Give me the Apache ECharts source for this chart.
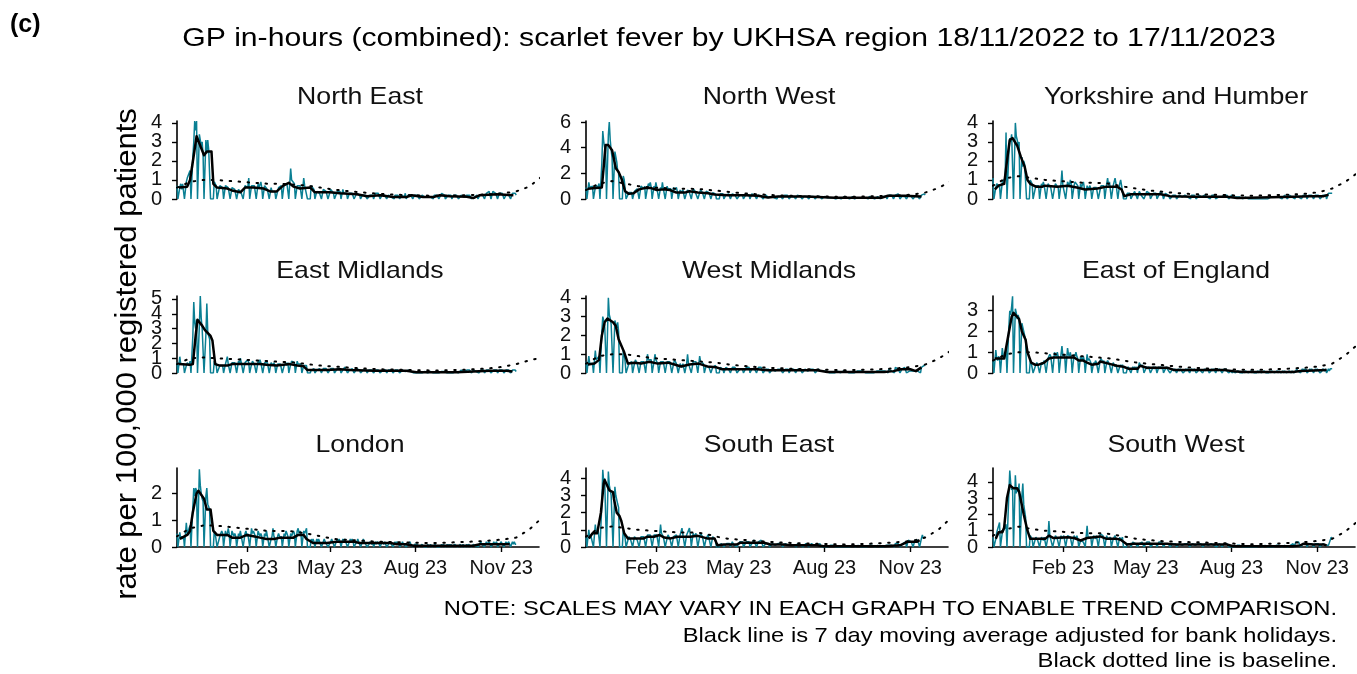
<!DOCTYPE html>
<html>
<head>
<meta charset="utf-8">
<script src="https://cdn.jsdelivr.net/npm/echarts@6/dist/echarts.min.js"></script>
<style>
html,body{margin:0;padding:0;background:#fff;}
#chart{width:1357px;height:674px;}
</style>
</head>
<body>
<div id="chart"></div>
<script>
// ---------------- DATA ----------------
// Daily rates from Fri 18/11/2022 to Fri 17/11/2023 (weeks run Fri..Thu)
const startDate = '2022-11-18';
const regionNames = ['North East','North West','Yorkshire and Humber','East Midlands','West Midlands','East of England','London','South East','South West'];
const xTickDates = ['2023-02-01','2023-05-01','2023-08-01','2023-11-01'];
const xTickLabels = ['Feb 23','May 23','Aug 23','Nov 23'];
const xEndDate = '2023-12-11';

const neDaily = [
.7,0,0,.6,.8,.5,.8, .7,0,0,.9,1.1,1,1.2,
1.5,0,0,2.2,3,4.1,3.6, 4.1,0,0,3.4,3.1,2.8,3,
2.3,0,0,3.1,2.4,3.1,2.6, 2.5,0,0,0,0,.9,.8,
.7,0,0,0,.7,.6,.8, .6,0,0,.7,.6,.8,.6,
.5,0,0,.6,.5,.7,.5, .4,0,0,.5,.4,.5,.3,
.4,0,0,.7,.6,.8,.6, 1.1,0,0,.7,.8,.6,.7,
.7,0,0,.8,.6,.7,.9, .6,0,0,.7,.6,.7,.5,
.5,0,0,.6,.4,.4,.5, .4,0,0,.4,.6,.5,.6,
.7,0,0,.8,.7,.9,.8, .9,0,0,1.6,1,.9,1.1,
.8,0,0,.7,.8,.6,.7, .6,0,0,1.1,.7,.6,.8,
0,0,0,0,.7,.6,.7, .5,0,0,.4,.4,.5,.3,
.4,0,0,.5,.4,.6,.4, .4,0,0,0,.5,.5,.4,
.3,0,0,0,.4,.4,.5, .4,0,0,.5,.3,.3,.4,
.3,0,0,.3,.4,.4,.3, .3,0,0,0,.3,.3,.4,
.2,0,0,.2,.1,.3,.2, .2,0,0,.1,.2,.2,.2,
.2,0,0,.3,.3,.2,.3, .3,0,0,.2,.2,.3,.2,
.1,0,0,.2,.2,.1,.1, .1,0,0,.2,.1,.2,.2,
.1,0,0,.2,.2,.3,.1, .3,0,0,.2,.3,.3,.2,
.2,0,0,.2,.1,.2,.2, .1,0,0,.1,.2,.2,.1,
.1,0,0,.1,.2,.1,.1, .1,0,0,.2,.1,.2,.2,
.2,0,0,0,.3,.3,.2, .2,0,0,.1,.2,.2,.2,
.2,0,0,.2,.1,.2,.2, .2,0,0,.1,.2,.2,.1,
.1,0,0,.2,.1,.2,.2, .1,0,0,0,.1,.1,.1,
.2,0,0,.2,.2,.3,.2, .2,0,0,.3,.3,.2,.4,
.3,0,0,.4,.3,.3,.3, .3,0,0,.3,.3,.4,.3,
.3,0,0,.2,.3,.3,.2, .2,0,0,.3,.2,.3,.3,
.2];
const nwDaily = [
.9,0,0,1.3,.9,1,.8, 1,0,0,.9,1.1,.8,1,
1.2,0,0,2.8,5.3,4.5,4, 4.2,0,0,5,6,4.6,3.8,
3.2,0,0,3.7,3.3,2.9,2.2, 2,0,0,0,0,1.8,1.5,
.8,0,0,0,.5,.4,.6, .5,0,0,.6,.7,.5,.8,
.9,0,0,1,.9,1.1,.8, 1,0,0,.9,1.2,1,1.3,
.9,0,0,1,.8,1.3,.9, .8,0,0,.9,.7,1.3,.8,
.9,0,0,1,.8,.9,.7, .8,0,0,.9,.7,.8,.9,
.6,0,0,.7,.5,.6,.7, .6,0,0,.5,.7,.6,.5,
.6,0,0,.8,.7,.6,.7, .6,0,0,.5,.7,.6,.5,
.5,0,0,.6,.5,.6,.5, .4,0,0,.5,.4,.5,.4,
0,0,0,0,.4,.5,.4, .4,0,0,.3,.4,.3,.4,
.3,0,0,.4,.3,.4,.3, .4,0,0,0,.3,.4,.3,
.3,0,0,0,.4,.3,.3, .3,0,0,.4,.3,.4,.3,
.3,0,0,.3,.4,.3,.2, .2,0,0,0,.3,.2,.2,
.1,0,0,.2,.1,.2,.1, .2,0,0,.2,.3,.2,.2,
.2,0,0,.3,.2,.2,.3, .2,0,0,.2,.3,.2,.2,
.2,0,0,.3,.2,.3,.2, .2,0,0,.2,.2,.3,.2,
.2,0,0,.2,.1,.2,.2, .1,0,0,.2,.2,.1,.2,
.1,0,0,.1,.2,.1,.1, .1,0,0,.1,.1,.2,.1,
.1,0,0,.1,.1,.1,.2, .1,0,0,.1,.2,.1,.1,
.1,0,0,0,.1,.1,.2, .1,0,0,.1,.1,.2,.1,
.1,0,0,.1,.2,.1,.1, .1,0,0,.2,.1,.1,.1,
.1,0,0,.1,.1,.2,.1, .2,0,0,.1,.2,.1,.2,
.2,0,0,.3,.3,.2,.3, .3,0,0,.3,.2,.3,.4,
.3,0,0,.2,.3,.3,.2, .2,0,0,.3,.2,.3,.2,
.2,0,0,.2,.3,.2,.2, .2,0,0,.3,.2,.3,.4,
.3];
const yhDaily = [
1.1,0,0,.6,.8,.7,.9, .7,0,0,.9,1,.8,1.1,
3.5,0,0,2.4,3.2,3,3.4, 3.4,0,0,4,3.3,3.1,2.8,
3,0,0,2.2,1.7,2,1.8, 1.7,0,0,0,0,1,.9,
.8,0,0,0,.7,.8,.6, .7,0,0,.8,.6,.9,.7,
.6,0,0,.8,.7,.9,.6, .7,0,0,.6,.8,.7,.9,
.6,0,0,.8,1.5,.7,.8, .7,0,0,.9,.8,.7,1,
.8,0,0,.7,.9,1,.8, .7,0,0,.8,.6,.7,.9,
.6,0,0,.7,.5,.6,.7, .5,0,0,.6,.7,.5,.6,
.6,0,0,.5,.7,.8,.6, .7,0,0,.8,1.1,.7,.9,
.8,0,0,.7,.9,1.1,.8, .7,0,0,.8,1,.7,.6,
0,0,0,0,.3,.2,.3, .3,0,0,.2,.3,.4,.3,
.3,0,0,.4,.3,.2,.3, .3,0,0,0,.4,.3,.3,
.3,0,0,0,.3,.4,.3, .3,0,0,.2,.3,.4,.3,
.2,0,0,.3,.2,.3,.2, .2,0,0,0,.2,.3,.2,
.2,0,0,.1,.2,.1,.2, .1,0,0,.2,.1,.2,.1,
.1,0,0,.2,.1,.1,.2, .2,0,0,.1,.2,.1,.1,
.1,0,0,.2,.1,.2,.1, .1,0,0,.1,.2,.1,.2,
.2,0,0,.1,.1,.2,.1, .1,0,0,.2,.1,.1,.2,
.1,0,0,.1,.2,.1,.1, .1,0,0,.1,.1,.1,.1,
.1,0,0,0,.1,.1,0, .1,0,0,.1,0,.1,.1,
0,0,0,0,.1,.1,0, .1,0,0,.1,.1,0,.1,
.1,0,0,.1,.1,.1,.2, .1,0,0,.1,.2,.1,.1,
.1,0,0,.1,.1,.2,.1, .1,0,0,.2,.1,.1,.1,
.1,0,0,.2,.1,.2,.1, .2,0,0,.1,.2,.2,.1,
.2,0,0,.2,.1,.2,.2, .1,0,0,.2,.2,.1,.2,
.2,0,0,.1,.2,.3,.2, .2,0,0,.3,.2,.3,.3,
.3];
const emDaily = [
.7,0,0,1.1,.6,.7,.5, .6,0,0,.5,.7,.6,.5,
.8,0,0,2.5,4.8,3.4,3, 3.6,0,0,3.2,5.2,3.7,3,
3,0,0,2.6,4.7,2.8,2.5, 2.3,0,0,0,0,.8,.7,
.6,0,0,0,.5,.6,.5, .5,0,0,.6,.5,1.1,.6,
.6,0,0,.7,.8,.6,.7, .7,0,0,.8,.6,1,.7,
.6,0,0,.7,.8,.6,.9, .7,0,0,.6,.8,.7,.6,
.7,0,0,.8,.6,.9,.7, .6,0,0,.7,.8,.6,.7,
.6,0,0,.7,.6,.5,.7, .5,0,0,.6,.7,.5,.6,
.6,0,0,.5,.6,.7,.5, .7,0,0,.6,.8,.7,.9,
.7,0,0,.8,.6,.7,.5, .6,0,0,.5,.4,.6,.5,
0,0,0,0,.2,.3,.2, .3,0,0,.2,.3,.2,.3,
.2,0,0,.3,.2,.4,.3, .3,0,0,0,.3,.4,.2,
.3,0,0,0,.3,.2,.4, .3,0,0,.2,.3,.4,.3,
.3,0,0,.2,.3,.2,.3, .2,0,0,0,.3,.2,.2,
.2,0,0,.1,.2,.2,.1, .2,0,0,.2,.1,.2,.2,
.1,0,0,.2,.2,.1,.2, .2,0,0,.1,.2,.2,.1,
.2,0,0,.2,.1,.2,.2, .1,0,0,.2,.2,.1,.2,
.2,0,0,.1,.2,.2,.1, .1,0,0,.2,.1,.2,.1,
.1,0,0,.1,.1,0,.1, 0,0,0,.1,0,.1,0,
.1,0,0,0,.1,0,.1, 0,0,0,.1,.1,0,.1,
0,0,0,0,.1,0,.1, .1,0,0,0,.1,.1,0,
.1,0,0,.1,0,.1,.1, .1,0,0,.1,.2,.1,.1,
.1,0,0,.2,.1,.1,.2, .1,0,0,.2,.1,.2,.1,
.2,0,0,.1,.2,.2,.1, .2,0,0,.2,.1,.2,.2,
.2,0,0,.1,.2,.3,.2, .2,0,0,.2,.1,.2,.2,
.1,0,0,.2,.2,.1,.2, .1,0,0,.2,.1,.1,.2,
.1];
const wmDaily = [
.6,0,0,.9,.5,.6,.4, .5,0,0,1.2,.7,.6,.8,
.9,0,0,2.2,3,2.8,2.6, 2.7,0,0,4,3.1,2.9,2.6,
2.5,0,0,2.8,2.6,2.4,2.7, 2.2,0,0,0,0,1.2,1,
.6,0,0,0,.5,.6,.5, .6,0,0,.5,.7,.6,.5,
.5,0,0,.6,.5,.7,.6, .6,0,0,1,.7,.6,.8,
.7,0,0,.6,1,.7,.6, .5,0,0,.6,.5,.7,.6,
.5,0,0,.6,.7,.5,.6, .6,0,0,.5,.7,.6,.5,
.4,0,0,.5,.4,.3,.5, .4,0,0,.5,1,.5,.6,
.5,0,0,.6,.5,.7,.6, .6,0,0,.9,.6,.5,.7,
.5,0,0,.4,.5,.4,.3, .4,0,0,.3,.4,.3,.4,
0,0,0,0,.3,.2,.3, .2,0,0,.3,.2,.3,.2,
.2,0,0,.3,.2,.2,.3, .3,0,0,0,.2,.3,.2,
.2,0,0,0,.3,.2,.2, .3,0,0,.2,.3,.2,.2,
.2,0,0,.3,.2,.2,.3, .2,0,0,0,.2,.1,.2,
.2,0,0,.1,.2,.2,.1, .1,0,0,.2,.2,.1,.2,
.2,0,0,.1,.2,.2,.1, .2,0,0,.2,.1,.2,.2,
.1,0,0,.2,.2,.1,.2, .2,0,0,.1,.2,.2,.1,
.1,0,0,.2,.1,.2,.2, .2,0,0,.1,.2,.1,.2,
.1,0,0,.1,0,.1,.1, 0,0,0,.1,.1,0,.1,
.1,0,0,0,.1,0,.1, 0,0,0,.1,0,.1,.1,
0,0,0,0,.1,0,.1, .1,0,0,0,.1,.1,0,
.1,0,0,.1,0,.1,0, 0,0,0,.1,.1,0,.1,
.1,0,0,0,.1,.1,.1, .1,0,0,.1,0,.1,.1,
.1,0,0,.2,.1,.2,.1, .2,0,0,.3,.2,.3,.2,
.3,0,0,.2,.3,.2,.3, .2,0,0,.1,.1,.2,.1,
.1,0,0,.1,.2,.1,.1, .2,0,0,.3,.4,.3,.4,
.4];
const eeDaily = [
.6,0,0,1.1,.7,.6,.8, .7,0,0,1.2,.8,.7,.9,
1.1,0,0,2.2,3,2.8,3.2, 3.7,0,0,3.1,2.9,2.6,2.8,
2.6,0,0,2.4,2.2,2,1.8, 1.6,0,0,0,0,.6,.5,
.5,0,0,0,.4,.5,.4, .4,0,0,.5,.4,.5,.6,
.6,0,0,.7,.8,.9,.8, .8,0,0,1,.9,.8,1,
.8,0,0,.9,1.3,.8,.9, .8,0,0,1.2,.9,.8,1,
.7,0,0,.9,.8,1,.8, .7,0,0,.8,.7,.6,.8,
.6,0,0,.9,.6,.7,.6, .5,0,0,.5,.4,.6,.5,
.5,0,0,.6,.7,.6,.5, .6,0,0,.5,.6,.5,.4,
.4,0,0,.5,.4,.3,.4, .4,0,0,.3,.4,.3,.4,
0,0,0,0,.2,.3,.2, .2,0,0,.3,.2,.3,.2,
.3,0,0,.5,.4,.3,.4, .3,0,0,0,.3,.2,.3,
.3,0,0,0,.3,.2,.3, .2,0,0,.3,.2,.3,.2,
.3,0,0,.2,.3,.2,.2, .2,0,0,0,.2,.1,.2,
.1,0,0,.2,.1,.2,.2, .2,0,0,.1,.2,.1,.2,
.1,0,0,.2,.2,.1,.2, .2,0,0,.1,.2,.2,.1,
.1,0,0,.2,.1,.2,.1, .2,0,0,.1,.2,.1,.2,
.1,0,0,.2,.1,.2,.2, .2,0,0,.2,.1,.2,.1,
.1,0,0,.1,.1,0,.1, .1,0,0,0,.1,.1,0,
0,0,0,.1,0,.1,.1, .1,0,0,0,.1,0,.1,
0,0,0,0,.1,0,.1, .1,0,0,0,.1,.1,0,
0,0,0,.1,0,.1,.1, .1,0,0,0,.1,0,.1,
.1,0,0,.1,0,.1,.1, 0,0,0,.1,.1,0,.1,
.1,0,0,.1,.2,.1,.1, .1,0,0,.2,.1,.2,.1,
.2,0,0,.1,.2,.1,.2, .1,0,0,.2,.1,.2,.2,
.2,0,0,.1,.2,.2,.1, .2,0,0,.2,.1,.2,.2,
.2];
const ldDaily = [
.5,0,0,.55,.3,.4,.3, .4,0,0,.9,.5,.6,.7,
.8,0,0,1.5,2.2,1.9,2.2, 2.1,0,0,2.9,2.3,2,1.8,
1.7,0,0,1.9,2.2,1.6,1.5, 1.4,0,0,0,0,.6,.5,
.5,0,0,0,.4,.5,.6, .5,0,0,.6,.4,.5,.7,
.5,0,0,.6,.5,.4,.5, .4,0,0,.5,.4,.6,.4,
.4,0,0,.5,.6,.4,.5, .5,0,0,.7,.5,.6,.5,
.4,0,0,.6,.5,.4,.5, .4,0,0,.5,.4,.6,.4,
.4,0,0,.3,.4,.7,.4, .3,0,0,.4,.5,.4,.3,
.4,0,0,.5,.4,.6,.5, .4,0,0,.5,.4,.5,.6,
.5,0,0,.6,.7,.5,.6, .5,0,0,.6,.5,.6,.7,
0,0,0,0,.3,.2,.3, .2,0,0,.3,.2,.3,.2,
.2,0,0,.2,.3,.2,.2, .2,0,0,0,.2,.3,.2,
.2,0,0,0,.3,.2,.3, .2,0,0,.3,.2,.3,.2,
.2,0,0,.2,.3,.2,.3, .2,0,0,0,.2,.3,.2,
.2,0,0,.2,.3,.2,.2, .2,0,0,.1,.2,.2,.1,
.2,0,0,.2,.1,.2,.2, .1,0,0,.2,.2,.1,.2,
.2,0,0,.1,.2,.2,.1, .1,0,0,.2,.1,.2,.2,
.1,0,0,.1,.2,.1,.1, .1,0,0,.1,.1,.2,.1,
.1,0,0,.1,.1,.1,.1, .1,0,0,0,.1,.1,0,
0,0,0,.1,.1,0,.1, .1,0,0,0,.1,.1,0,
0,0,0,0,.1,0,.1, .1,0,0,.1,0,.1,0,
.1,0,0,0,.1,.1,.1, 0,0,0,.1,.1,0,.1,
.1,0,0,.1,0,.1,.1, .1,0,0,.1,.1,.1,0,
.1,0,0,.1,.2,.1,.1, .1,0,0,.2,.1,.1,.2,
.1,0,0,.1,.2,.1,.1, .2,0,0,.1,.1,.2,.1,
.1,0,0,.2,.1,.1,.2, .1,0,0,.2,.1,.2,.1,
.1];
const seDaily = [
.6,0,0,1,.5,.7,.8, .7,0,0,1.3,.8,.9,1,
1.1,0,0,2.5,4.5,3.8,4, 4,0,0,4.4,3.6,3.3,3,
3.1,0,0,3.5,3,2.9,2.5, 2.3,0,0,0,0,1,.9,
.5,0,0,0,.6,.5,.4, .5,0,0,.6,.5,.6,.4,
.5,0,0,.6,.5,.7,.6, .6,0,0,.7,.6,.8,.7,
.6,0,0,.7,.8,.6,.7, .7,0,0,1.3,.8,.7,.6,
.6,0,0,.5,.7,.6,.5, .5,0,0,.6,.5,.6,.7,
.6,0,0,.7,.6,1.1,.7, .6,0,0,.7,.8,.6,1.1,
.7,0,0,.8,.6,.7,.8, .7,0,0,.6,.8,.7,.6,
.6,0,0,.5,.6,.7,.5, .5,0,0,.6,.5,.6,.4,
0,0,0,0,.1,.2,.1, .2,0,0,.1,.2,.1,.2,
.2,0,0,.3,.2,.1,.2, .2,0,0,0,.3,.2,.3,
.3,0,0,0,.3,.4,.3, .3,0,0,.2,.3,.4,.3,
.3,0,0,.3,.2,.3,.4, .2,0,0,0,.2,.3,.2,
.2,0,0,.1,.2,.2,.1, .1,0,0,.2,.2,.1,.2,
.2,0,0,.1,.2,.1,.2, .1,0,0,.1,.2,.1,.1,
.1,0,0,.2,.1,.1,.1, .1,0,0,.1,.1,.2,.1,
.1,0,0,.1,.2,.1,.1, .1,0,0,.1,.1,.1,.2,
.1,0,0,.1,0,.1,.1, 0,0,0,.1,.1,0,.1,
.1,0,0,0,.1,0,.1, 0,0,0,.1,0,.1,.1,
0,0,0,0,.1,0,.1, .1,0,0,0,.1,.1,0,
.1,0,0,.1,0,.1,0, 0,0,0,.1,.1,0,.1,
.1,0,0,0,.1,.1,.1, .1,0,0,.1,0,.1,.1,
.1,0,0,.1,.2,.1,.1, .1,0,0,.2,.1,.1,.2,
.2,0,0,.1,.2,.2,.1, .3,0,0,.4,.3,.4,.3,
.3,0,0,.4,.3,.3,.4, .4,0,0,.5,.7,.5,.6,
.6];
const swDaily = [
.6,0,0,.5,.9,1,.8, 1.5,0,0,.9,1,.8,1.2,
1.4,0,0,3.3,4.7,3.9,3.5, 3.7,0,0,4.4,3.3,3.6,3.4,
3.9,0,0,3.1,3.9,2.6,2.2, 1.8,0,0,0,0,.7,.6,
.5,0,0,0,.6,.5,.4, .5,0,0,.6,.5,.4,.6,
.5,0,0,.6,1.6,.7,.6, .6,0,0,.5,.7,.6,.5,
.6,0,0,.7,.5,.6,.7, .6,0,0,.7,.6,.8,.6,
.6,0,0,.7,.6,.5,.7, .5,0,0,.4,.5,.4,.3,
.4,0,0,1.3,.6,.5,.7, .6,0,0,.7,.6,.5,.7,
.7,0,0,.8,.7,.9,.7, .6,0,0,.7,.5,.6,.5,
.6,0,0,.5,.6,.7,.5, .5,0,0,.6,.4,.5,.6,
0,0,0,0,.2,.1,.2, .2,0,0,.3,.2,.3,.2,
.3,0,0,.2,.3,.2,.3, .2,0,0,0,.3,.2,.2,
.3,0,0,0,.2,.3,.2, .2,0,0,.3,.2,.2,.3,
.2,0,0,.2,.3,.2,.2, .2,0,0,0,.2,.3,.2,
.2,0,0,.1,.2,.2,.1, .1,0,0,.2,.2,.1,.2,
.2,0,0,.1,.2,.2,.1, .1,0,0,.2,.1,.2,.2,
.2,0,0,.1,.2,.1,.2, .1,0,0,.2,.2,.1,.1,
.2,0,0,.1,.1,.2,.1, .1,0,0,.2,.1,.1,.2,
.1,0,0,.1,0,.1,.1, 0,0,0,.1,.1,0,.1,
.1,0,0,0,.1,0,.1, 0,0,0,.1,0,.1,.1,
0,0,0,0,.1,0,.1, .1,0,0,0,.1,.1,0,
.1,0,0,.1,0,.1,0, 0,0,0,.1,.1,0,.1,
.1,0,0,0,.1,.1,.1, .1,0,0,.1,.1,.2,.1,
.2,0,0,.3,.2,.2,.3, .2,0,0,.1,.2,.2,.1,
.2,0,0,.2,.1,.2,.2, .1,0,0,.2,.2,.1,.2,
.2,0,0,.1,.2,.1,.1, .1,0,0,.1,.2,.1,.6,
.5];

// 7 day moving average: [day since 18/11/2022, rate]
const neMA = [[2,.6],[11,.65],[14,1],[18,2.3],[21,3.3],[22,3.4],[25,2.8],[29,2.3],[32,2.5],[37,2.5],[39,.8],[43,.6],[54,.55],[59,.45],[68,.35],[73,.6],[82,.6],[93,.55],[100,.4],[107,.4],[114,.7],[120,.85],[125,.65],[132,.55],[143,.6],[148,.35],[164,.35],[175,.3],[193,.25],[204,.15],[218,.2],[232,.1],[246,.1],[252,.2],[264,.1],[275,.1],[282,.2],[293,.15],[311,.12],[318,.05],[325,.2],[343,.25],[361,.2]];
const nwMA = [[2,.8],[10,.85],[17,.9],[19,2.5],[21,4.2],[24,4.2],[28,3.8],[32,2.4],[35,2.1],[38,1.6],[42,.6],[46,.4],[51,.45],[57,.75],[63,.85],[70,.85],[76,.7],[83,.75],[90,.7],[97,.5],[106,.5],[111,.6],[120,.5],[131,.45],[138,.35],[152,.3],[170,.3],[185,.25],[195,.12],[206,.2],[235,.2],[249,.15],[267,.1],[292,.1],[317,.1],[324,.25],[342,.25],[360,.2]];
const yhMA = [[2,.5],[6,.7],[12,.8],[15,2],[18,3.1],[21,3.2],[26,2.8],[30,2.2],[34,1.7],[37,1],[40,.8],[46,.65],[53,.65],[56,.7],[69,.65],[80,.7],[90,.6],[99,.5],[112,.55],[122,.65],[133,.65],[138,.5],[141,.15],[148,.25],[180,.25],[190,.15],[215,.12],[251,.12],[262,.05],[287,.08],[322,.12],[340,.15],[355,.15],[360,.22]];
const emMA = [[2,.6],[14,.55],[17,.6],[20,2.5],[22,3.6],[27,3.2],[30,2.9],[36,2.5],[38,2.2],[41,.6],[46,.5],[54,.5],[59,.6],[89,.6],[96,.55],[107,.5],[121,.6],[129,.5],[136,.45],[140,.2],[161,.2],[175,.25],[186,.2],[211,.15],[246,.15],[257,.05],[300,.05],[318,.1],[336,.15],[354,.15],[360,.1]];
const wmMA = [[2,.45],[9,.5],[11,.6],[14,.7],[17,2],[20,2.7],[23,2.9],[29,2.7],[32,2.5],[35,1.8],[41,1.1],[45,.5],[52,.55],[59,.5],[68,.6],[77,.5],[88,.55],[95,.45],[102,.35],[111,.45],[121,.5],[130,.35],[140,.3],[146,.2],[184,.2],[195,.15],[248,.15],[259,.05],[320,.05],[330,.1],[338,.2],[348,.2],[354,.1],[360,.3]];
const eeMA = [[2,.7],[12,.7],[14,.75],[18,2.2],[20,2.7],[22,2.9],[28,2.6],[31,2],[35,1.6],[37,1],[41,.5],[45,.4],[49,.4],[55,.5],[60,.7],[65,.75],[87,.75],[92,.6],[97,.6],[101,.5],[106,.4],[113,.45],[115,.55],[124,.45],[133,.35],[140,.3],[146,.2],[155,.2],[158,.35],[165,.25],[187,.25],[194,.15],[215,.15],[247,.15],[258,.08],[269,.05],[322,.05],[330,.1],[358,.15]];
const ldMA = [[3,.3],[11,.45],[14,.6],[17,1.3],[21,2],[23,2.1],[29,1.8],[32,1.4],[36,1.4],[39,.6],[43,.45],[54,.45],[59,.35],[68,.35],[75,.45],[82,.4],[89,.35],[96,.3],[104,.3],[111,.35],[125,.35],[130,.45],[136,.45],[139,.3],[146,.15],[161,.15],[171,.2],[189,.2],[196,.15],[229,.15],[236,.1],[246,.1],[254,.05],[318,.05],[325,.1],[357,.1]];
const seMA = [[3,.5],[7,.8],[12,.8],[14,.9],[16,2],[19,3.7],[20,3.9],[25,3.3],[29,3.2],[30,2.8],[33,2],[36,1.8],[38,1.5],[41,.8],[45,.5],[62,.5],[66,.6],[73,.6],[79,.7],[84,.55],[91,.5],[98,.6],[112,.6],[120,.65],[130,.5],[138,.5],[141,.1],[148,.15],[162,.15],[166,.25],[191,.25],[198,.15],[212,.15],[220,.1],[248,.1],[255,.05],[320,.05],[337,.1],[345,.3],[355,.3],[358,.4]];
const swMA = [[3,.5],[6,.9],[10,.9],[12,1.2],[15,3],[18,3.8],[22,3.6],[26,3.6],[28,3.4],[33,2],[37,1],[40,.5],[47,.5],[56,.5],[60,.7],[65,.55],[80,.6],[87,.55],[94,.4],[101,.55],[115,.65],[122,.5],[133,.5],[137,.45],[144,.15],[151,.2],[187,.2],[194,.15],[251,.15],[258,.05],[322,.05],[330,.1],[333,.2],[344,.15],[355,.15],[358,.1]];

// Baseline, one value every 14 days from 18/11/2022
const neBase = [.6,.9,1,1,.95,.9,.85,.8,.8,.75,.7,.6,.5,.42,.36,.3,.25,.22,.2,.18,.17,.18,.2,.22,.25,.3,.4,.65,1.2];
const nwBase = [.7,1.2,1.4,1.2,1,.9,.85,.8,.8,.75,.65,.55,.45,.38,.32,.27,.24,.22,.2,.18,.17,.19,.21,.24,.28,.34,.5,.85,1.4];
const yhBase = [.7,1.1,1.2,1.1,1,.95,.9,.85,.85,.8,.65,.55,.45,.38,.32,.27,.24,.22,.2,.18,.17,.19,.21,.24,.28,.36,.55,.9,1.4];
const emBase = [.6,1,1.05,1,.95,.9,.85,.8,.75,.7,.6,.5,.44,.38,.32,.27,.24,.22,.2,.18,.17,.19,.22,.26,.32,.42,.6,.85,1.05];
const wmBase = [.5,.9,1,1,.9,.8,.75,.7,.65,.6,.55,.45,.38,.32,.28,.25,.22,.2,.18,.16,.15,.17,.19,.22,.26,.32,.45,.75,1.2];
const eeBase = [.6,.9,1,1,.95,.9,.85,.8,.75,.7,.6,.5,.44,.38,.32,.27,.23,.2,.18,.16,.15,.17,.19,.22,.26,.32,.45,.85,1.4];
const ldBase = [.4,.7,.8,.8,.75,.7,.65,.6,.6,.58,.5,.4,.3,.27,.24,.21,.19,.18,.16,.15,.15,.17,.19,.21,.24,.28,.35,.65,1.1];
const seBase = [.6,1.1,1.2,1.1,1,.95,.9,.85,.85,.8,.6,.47,.42,.36,.3,.26,.23,.2,.18,.16,.15,.17,.2,.24,.29,.35,.55,1,1.7];
const swBase = [.7,1.1,1.25,1.1,1,.95,.9,.85,.85,.8,.65,.5,.42,.36,.32,.3,.28,.25,.22,.19,.17,.19,.22,.26,.31,.38,.5,.95,1.6];
const baseStepDays = 14;

// y-axis ranges per panel
const yMaxes = [4.1, 6.08, 4.1, 5.2, 4.1, 3.71, 2.95, 4.6, 4.85];
const yIntervals = [1, 2, 1, 1, 1, 1, 1, 1, 1];

// ---------------- CHART ----------------
const dailyAll = [neDaily, nwDaily, yhDaily, emDaily, wmDaily, eeDaily, ldDaily, seDaily, swDaily];
const maAll = [neMA, nwMA, yhMA, emMA, wmMA, eeMA, ldMA, seMA, swMA];
const baseAll = [neBase, nwBase, yhBase, emBase, wmBase, eeBase, ldBase, seBase, swBase];

const DAY = 864e5;
const t0 = Date.parse(startDate + 'T00:00:00Z');
const dayOf = s => (Date.parse(s + 'T00:00:00Z') - t0) / DAY;
const xTickDays = xTickDates.map(dayOf);
const xMax = dayOf(xEndDate) + 0.5;

const FONT = "'Liberation Sans', Arial, Helvetica, sans-serif";
const TEAL = '#0a7f93';
const colLeft = [177, 586, 993];
const colWidth = 362;
const rowTop = [121, 296, 468];
const rowHeight = [78, 77, 79];

const grids = [], xAxes = [], yAxes = [], series = [], graphics = [], yTickLists = [];
for (let i = 0; i < 9; i++) {
  const r = Math.floor(i / 3), c = i % 3;
  grids.push({left: colLeft[c], top: rowTop[r], width: colWidth, height: rowHeight[r], containLabel: false});
  const bottom = r === 2;
  xAxes.push({
    type: 'value', gridIndex: i, min: 0, max: xMax,
    show: bottom,
    axisLine: {show: bottom, lineStyle: {color: '#000', width: 1.6}},
    axisTick: {show: bottom, customValues: xTickDays, length: 5, lineStyle: {color: '#000', width: 1.4}},
    axisLabel: {show: bottom, customValues: xTickDays, margin: 11, fontFamily: FONT, fontSize: 20, color: '#111',
      formatter: v => { const k = xTickDays.findIndex(d => Math.abs(d - v) < 0.01); return k >= 0 ? xTickLabels[k] : ''; }},
    splitLine: {show: false}
  });
  const yTicks = [];
  for (let v = 0; v <= yMaxes[i] + 1e-9; v += yIntervals[i]) yTicks.push(v);
  yTickLists.push(yTicks);
  yAxes.push({
    type: 'value', gridIndex: i, min: 0, max: yMaxes[i],
    axisLine: {show: true, lineStyle: {color: '#000', width: 1.6}},
    axisTick: {show: true, customValues: yTicks, length: 5, lineStyle: {color: '#000', width: 1.4}},
    axisLabel: {show: false},
    splitLine: {show: false}
  });
  series.push({
    type: 'line', xAxisIndex: i, yAxisIndex: i, showSymbol: false, symbol: 'none', clip: true, z: 2,
    data: dailyAll[i].map((v, d) => [d, v]),
    lineStyle: {color: TEAL, width: 1.5}, silent: true, animation: false
  });
  series.push({
    type: 'line', xAxisIndex: i, yAxisIndex: i, showSymbol: false, symbol: 'none', clip: true, z: 3,
    data: baseAll[i].map((v, k) => [k * baseStepDays, v]),
    lineStyle: {color: '#000', width: 2, type: [1.5, 7.5], cap: 'round'}, silent: true, animation: false
  });
  series.push({
    type: 'line', xAxisIndex: i, yAxisIndex: i, showSymbol: false, symbol: 'none', clip: true, z: 4,
    data: maAll[i],
    lineStyle: {color: '#000', width: 2.5, join: 'round'}, silent: true, animation: false
  });
  graphics.push({type: 'text', x: colLeft[c] + 183, y: [97, 271, 445][r], scaleX: 1.11,
    style: {text: regionNames[i], font: '24px ' + FONT, fill: '#111', textAlign: 'center', textVerticalAlign: 'middle'}});
}

graphics.push({type: 'text', x: 10, y: 25, style: {text: '(c)', font: 'bold 25px ' + FONT, fill: '#000', textAlign: 'left', textVerticalAlign: 'middle'}});
graphics.push({type: 'text', x: 729, y: 39, scaleX: 1.16, style: {text: 'GP in-hours (combined): scarlet fever by UKHSA region 18/11/2022 to 17/11/2023', font: '26px ' + FONT, fill: '#000', textAlign: 'center', textVerticalAlign: 'middle'}});
graphics.push({type: 'text', x: 128, y: 354, rotation: Math.PI / 2, scaleX: 1.07, style: {text: 'rate per 100,000 registered patients', font: '29px ' + FONT, fill: '#000', textAlign: 'center', textVerticalAlign: 'middle'}});
const notes = ['NOTE: SCALES MAY VARY IN EACH GRAPH TO ENABLE TREND COMPARISON.', 'Black line is 7 day moving average adjusted for bank holidays.', 'Black dotted line is baseline.'];
[609, 636, 661].forEach((y, k) => graphics.push({type: 'text', x: 1337, y: y, scaleX: 1.13, style: {text: notes[k], font: '21px ' + FONT, fill: '#000', textAlign: 'right', textVerticalAlign: 'middle'}}));

const chart = echarts.init(document.getElementById('chart'), null, {renderer: 'canvas'});
chart.setOption({
  animation: false,
  backgroundColor: '#fff',
  grid: grids, xAxis: xAxes, yAxis: yAxes, series: series
});

// y tick labels, placed through each panel's own y scale (ECharts would thin the crowded labels)
const labelEls = [];
for (let i = 0; i < 9; i++) {
  const c = i % 3;
  yTickLists[i].forEach(v => {
    const py = chart.convertToPixel({yAxisIndex: i}, v);
    labelEls.push({type: 'text', x: colLeft[c] - 15, y: py,
      style: {text: String(v), font: '20px ' + FONT, fill: '#111', textAlign: 'right', textVerticalAlign: 'middle'}});
  });
}
chart.setOption({graphic: {elements: graphics.concat(labelEls)}});
</script>
</body>
</html>
